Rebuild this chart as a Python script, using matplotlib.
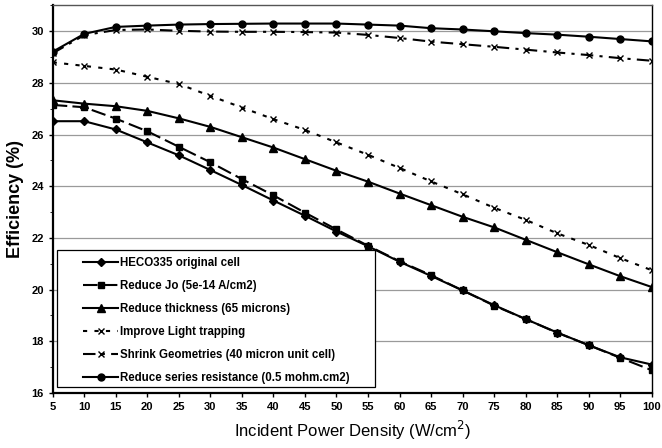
import matplotlib
matplotlib.use("Agg")
import matplotlib.pyplot as plt
from matplotlib.patches import Rectangle
from matplotlib.ticker import MultipleLocator

plt.rcParams["font.family"] = ["Liberation Sans", "DejaVu Sans"]

# Incident power density (W/cm2)
power = [5, 10, 15, 20, 25, 30, 35, 40, 45, 50, 55, 60, 65, 70, 75, 80, 85, 90, 95, 100]

# Efficiency (%) for each design change
heco335 = [26.52, 26.52, 26.2, 25.7, 25.2, 24.63, 24.05, 23.45, 22.86, 22.25, 21.68,
           21.08, 20.53, 19.97, 19.4, 18.86, 18.34, 17.85, 17.38, 17.1]
reduce_jo = [27.15, 27.06, 26.62, 26.13, 25.53, 24.93, 24.28, 23.65, 22.98, 22.33, 21.7,
             21.1, 20.56, 19.97, 19.38, 18.86, 18.33, 17.85, 17.36, 16.88]
reduce_thickness = [27.33, 27.2, 27.1, 26.92, 26.63, 26.3, 25.9, 25.5, 25.05, 24.6, 24.18,
                    23.72, 23.27, 22.82, 22.41, 21.93, 21.45, 20.98, 20.52, 20.1]
light_trapping = [28.8, 28.66, 28.52, 28.24, 27.96, 27.5, 27.05, 26.6, 26.18, 25.7, 25.22,
                  24.71, 24.19, 23.69, 23.17, 22.7, 22.18, 21.73, 21.22, 20.75]
shrink_geom = [29.15, 29.85, 30.05, 30.07, 30.02, 29.99, 29.98, 29.98, 29.97, 29.95, 29.86,
               29.74, 29.6, 29.5, 29.4, 29.29, 29.18, 29.08, 28.96, 28.86]
series_res = [29.21, 29.9, 30.17, 30.22, 30.26, 30.28, 30.29, 30.3, 30.3, 30.3, 30.26,
              30.22, 30.12, 30.07, 30.0, 29.93, 29.87, 29.79, 29.7, 29.61]

labels = [
    "HECO335 original cell",
    "Reduce Jo (5e-14 A/cm2)",
    "Reduce thickness (65 microns)",
    "Improve Light trapping",
    "Shrink Geometries (40 micron unit cell)",
    "Reduce series resistance (0.5 mohm.cm2)",
]

fig = plt.figure(figsize=(6.62, 4.48), dpi=100)
ax = fig.add_axes([0.0796, 0.1228, 0.905, 0.865])

ax.yaxis.grid(True, color="#9a9a9a", linewidth=0.9)
ax.set_axisbelow(True)

k = dict(color="black", linewidth=1.5)
ax.plot(power, heco335, marker="D", markersize=4, label=labels[0], **k)
ax.plot(power, reduce_jo, marker="s", markersize=5, linestyle=(0, (7, 2.5)), label=labels[1], **k)
ax.plot(power, reduce_thickness, marker="^", markersize=6, label=labels[2], **k)
ax.plot(power, light_trapping, marker="x", markersize=5, linestyle=(0, (2, 3.5)),
        label=labels[3], color="black", linewidth=1.5, markeredgewidth=1)
ax.plot(power, shrink_geom, marker="x", markersize=5, linestyle=(0, (6, 3, 1.5, 3)),
        label=labels[4], color="black", linewidth=1.5, markeredgewidth=1)
ax.plot(power, series_res, marker="o", markersize=5, label=labels[5], **k)

ax.set_xlim(5, 100)
ax.set_ylim(16, 31)
ax.set_xticks(power)
ax.yaxis.set_major_locator(MultipleLocator(2))
ax.yaxis.set_minor_locator(MultipleLocator(1))
ax.set_yticks(range(16, 31, 2))
ax.tick_params(axis="both", labelsize=8, direction="out", length=3, width=1)
ax.tick_params(axis="y", which="minor", length=2)
for lab in ax.get_xticklabels() + ax.get_yticklabels():
    lab.set_fontweight("bold")

for side in ["left", "bottom"]:
    ax.spines[side].set_linewidth(1.6)
for side in ["top", "right"]:
    ax.spines[side].set_linewidth(1.0)
ax.spines["top"].set_color("#555555")

ax.set_xlabel("Incident Power Density (W/cm$^2$)", fontsize=12, labelpad=5)
ax.set_ylabel("Efficiency (%)", fontsize=13, fontweight="bold", labelpad=5)

# legend frame drawn as its own box, legend entries placed inside it
ax.add_patch(Rectangle((0.0077, 0.0163), 0.530, 0.353, transform=ax.transAxes,
                       facecolor="white", edgecolor="black", linewidth=0.9, zorder=4))
leg = ax.legend(loc="upper left", bbox_to_anchor=(0.0506, 0.352), fontsize=8.3,
                frameon=False, handlelength=3.04, labelspacing=0.96, borderpad=0,
                handletextpad=0.18, borderaxespad=0)
leg.set_zorder(5)
for t in leg.get_texts():
    t.set_fontweight("bold")

fig.savefig("out.png", dpi=100)
